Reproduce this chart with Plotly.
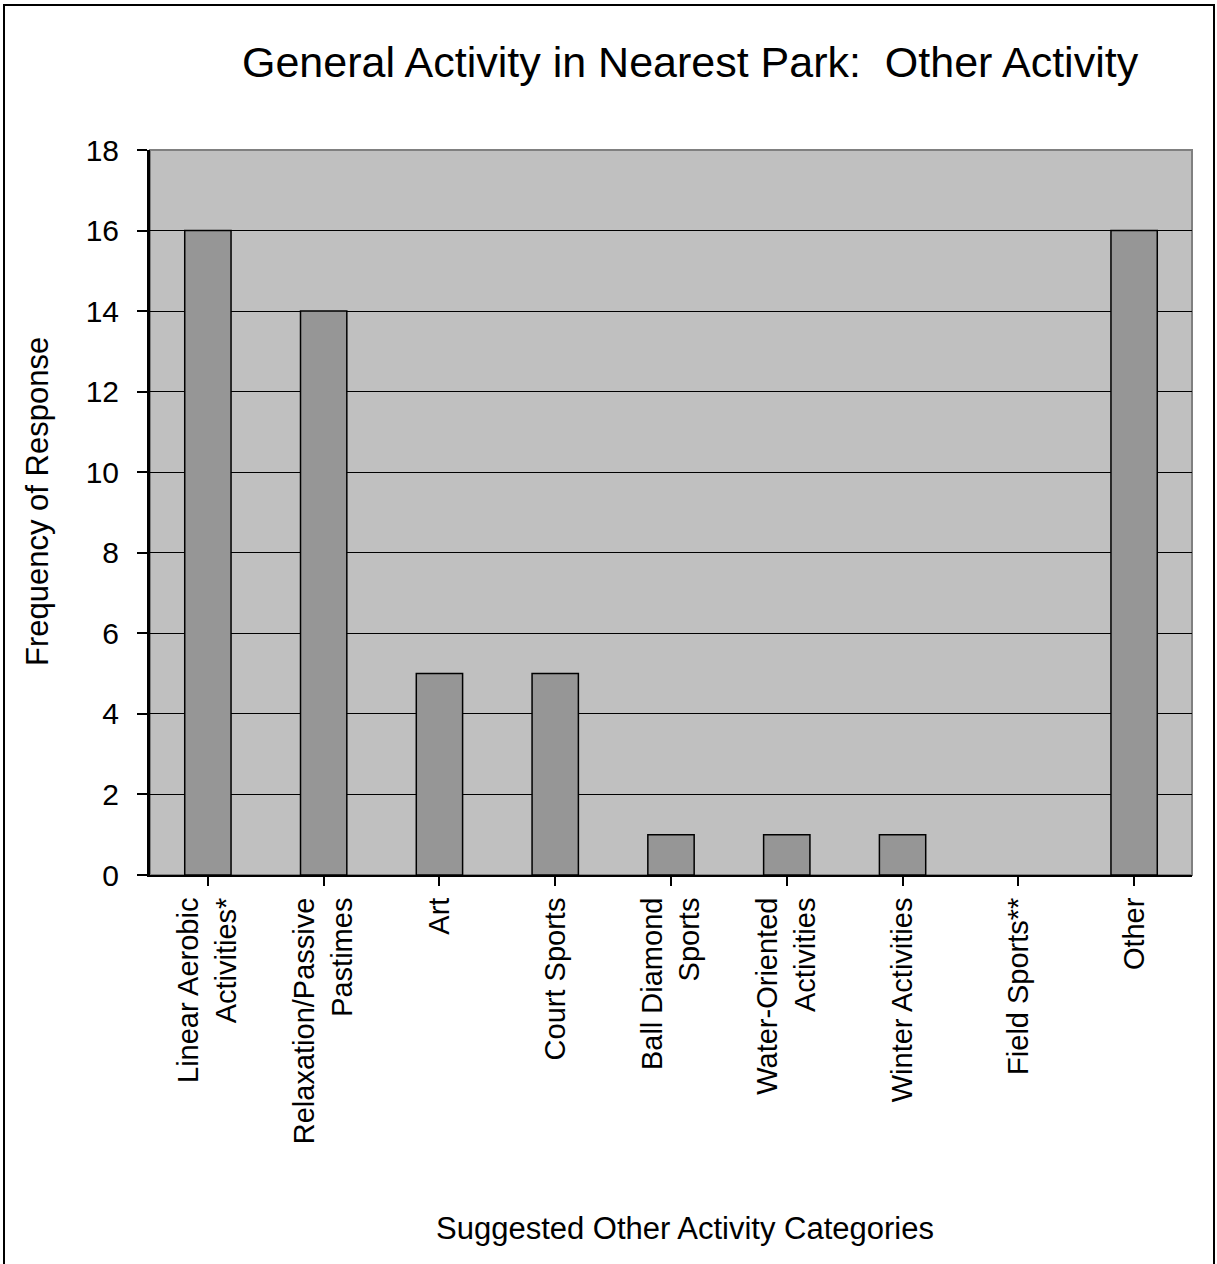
import plotly.graph_objects as go

categories = ["Linear Aerobic<br>Activities*", "Relaxation/Passive<br>Pastimes", "Art", "Court Sports",
              "Ball Diamond<br>Sports", "Water-Oriented<br>Activities", "Winter Activities", "Field Sports**", "Other"]
values = [16, 14, 5, 5, 1, 1, 1, 0, 16]
yticks = [0, 2, 4, 6, 8, 10, 12, 14, 16, 18]

W, H = 1217, 1264
L, R, T, B = 150, 1192, 150, 875

def px(x):
    return (x - L) / (R - L)

def py(y):
    return (B - y) / (B - T)

fig = go.Figure()
fig.add_trace(go.Bar(
    x=list(range(len(categories))), y=values,
    marker=dict(color="#969696", line=dict(color="black", width=[1.5 if v > 0 else 0 for v in values])),
    width=0.4, hoverinfo="skip",
))

font = "Liberation Sans, Arial, sans-serif"
fig.update_layout(
    width=W, height=H,
    margin=dict(l=L, r=W - R, t=T, b=H - B, pad=0),
    paper_bgcolor="white", plot_bgcolor="#C0C0C0",
    showlegend=False,
    font=dict(family=font, size=30, color="black"),
    xaxis=dict(
        tickmode="array", tickvals=list(range(len(categories))), ticktext=categories,
        range=[-0.5, len(categories) - 0.5], tickangle=-90,
        showgrid=False, showline=True, linecolor="black", linewidth=2,
        ticks="outside", ticklen=9, tickwidth=2, tickcolor="black", tickson="boundaries",
        tickfont=dict(size=29), zeroline=False,
    ),
    yaxis=dict(
        range=[0, 18], tickvals=yticks, showgrid=True, gridcolor="black", gridwidth=1,
        showline=True, linecolor="black", linewidth=3,
        ticks="outside", ticklen=10, tickwidth=2, tickcolor="black",
        tickfont=dict(size=30), zeroline=False, ticklabelstandoff=12,
    ),
    shapes=[
        dict(type="rect", xref="paper", yref="paper", x0=0, x1=1, y0=0, y1=1,
             line=dict(color="#808080", width=2), layer="below"),
        dict(type="rect", xref="paper", yref="paper", x0=px(4), x1=px(1214), y0=py(5), y1=py(1290),
             line=dict(color="black", width=2), fillcolor="rgba(0,0,0,0)"),
    ],
    annotations=[
        dict(text="General Activity in Nearest Park:  Other Activity", xref="paper", yref="paper",
             x=px(690), y=py(62), showarrow=False, xanchor="center", yanchor="middle",
             font=dict(size=43, family=font)),
        dict(text="Frequency of Response", xref="paper", yref="paper",
             x=px(38), y=py(502), showarrow=False, textangle=-90, xanchor="center", yanchor="middle",
             font=dict(size=31, family=font)),
        dict(text="Suggested Other Activity Categories", xref="paper", yref="paper",
             x=px(685), y=py(1228), showarrow=False, xanchor="center", yanchor="middle",
             font=dict(size=31, family=font)),
    ],
)
fig.write_html("out.html", config={"displayModeBar": False},
               post_script="document.body.style.margin='0';document.body.style.padding='0';")
